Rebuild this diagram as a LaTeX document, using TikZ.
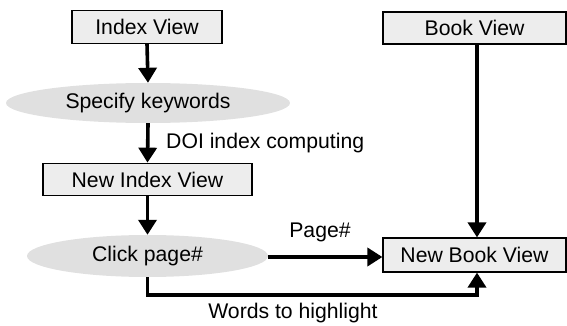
\documentclass[tikz,border=0pt]{standalone}
\usepackage{fontspec}
\setmainfont{Liberation Sans}
\usetikzlibrary{arrows.meta,shapes.geometric}

\definecolor{boxfill}{gray}{0.93}
\definecolor{ovalfill}{gray}{0.88}

\tikzset{
  viewbox/.style={draw=black, line width=1.2pt, fill=boxfill,
    minimum width=#1, inner sep=0pt, minimum height=32.5pt},
  action/.style={ellipse, fill=ovalfill, inner sep=0pt},
  flow/.style={line width=3.6pt, -{Triangle[length=15pt,width=18pt]}},
  lbl/.style={inner sep=0pt},
}

\begin{document}
\begin{tikzpicture}[x=1pt, y=-1pt,
  every node/.append style={font=\fontsize{21.2}{25}\selectfont}]
  \useasboundingbox (0,0) rectangle (567,326);

  % left column: index side
  \node[viewbox=150pt] (iv) at (147,27) {Index View};
  \node[action, minimum width=284pt, minimum height=40pt] (sk) at (148,103) {Specify keywords};
  \node[viewbox=209pt] (niv) at (147.5,179.5) {New Index View};
  \node[action, minimum width=241pt, minimum height=42pt] (cp) at (147.5,256) {Click page\#};

  % right column: book side
  \node[viewbox=183pt, minimum height=32pt] (bv) at (474.5,28) {Book View};
  \node[viewbox=183pt, minimum height=34pt] (nbv) at (474.5,255) {New Book View};

  \coordinate (colx) at (477,0);
  \coordinate (wy) at (0,295);

  % connectors
  \draw[flow] (iv.south) -- (sk.north);
  \draw[flow] (sk.south) -- (niv.north);
  \draw[flow] (niv.south) -- (cp.north);
  \draw[flow] (cp.east |- 0,257) -- (nbv.west |- 0,257);
  \draw[flow] (bv.south -| colx) -- (nbv.north -| colx);
  \draw[flow] (cp.south) |- (colx |- wy) -- (nbv.south -| colx);

  % connector labels
  \node[lbl, anchor=west] (doi) at (166,143) {DOI index computing};
  \node[lbl] (pg) at (320,232) {Page\#};
  \node[lbl] (wh) at (293,313) {Words to highlight};
\end{tikzpicture}
\end{document}
